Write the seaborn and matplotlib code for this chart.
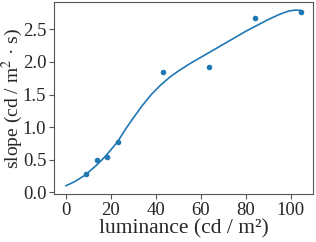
import matplotlib
matplotlib.use("Agg")
import matplotlib.pyplot as plt
import seaborn as sns
import pandas as pd

# measured points
lum_points = [8.8, 14.1, 18.3, 23.4, 43.4, 63.6, 83.9, 104.4]
slope_points = [0.275, 0.495, 0.55, 0.77, 1.845, 1.93, 2.67, 2.765]

# fitted curve
lum_curve = [0.0, 4.0, 8.7, 14.1, 17.8, 23.0, 26.4, 30.0, 34.0, 38.0, 42.0, 46.0, 50.0,
             55.0, 60.0, 65.0, 70.0, 75.0, 80.0, 85.0, 90.0, 95.0, 99.0, 102.0, 104.6]
slope_curve = [0.10, 0.165, 0.266, 0.43, 0.56, 0.775, 0.96, 1.14, 1.33, 1.50, 1.64, 1.76, 1.86,
               1.97, 2.07, 2.17, 2.27, 2.37, 2.47, 2.56, 2.65, 2.73, 2.78, 2.795, 2.79]

xticks = [0, 20, 40, 60, 80, 100]
yticks = [0.0, 0.5, 1.0, 1.5, 2.0, 2.5]

sns.set_style("ticks")
plt.rcParams['font.family'] = ['Liberation Serif', 'DejaVu Serif']
plt.rcParams['mathtext.fontset'] = 'stix'

fig = plt.figure(figsize=(3.16, 2.42), dpi=100)
ax = fig.add_axes([0.171, 0.197, 0.819, 0.795])

blue = "#1f77b4"
pts = pd.DataFrame({"x": lum_points, "y": slope_points})
crv = pd.DataFrame({"x": lum_curve, "y": slope_curve})
sns.lineplot(data=crv, x="x", y="y", ax=ax, color=blue, linewidth=1.2, sort=True)
sns.scatterplot(data=pts, x="x", y="y", ax=ax, color=blue, s=16, edgecolor=blue, linewidth=0, zorder=3)

ax.set_xticks(xticks)
ax.set_yticks(yticks)
ax.set_yticklabels([f"{v:.1f}" for v in yticks])
ax.set_xlim(-5.2, 109.8)
ax.set_ylim(-0.03, 2.92)
ax.set_xlabel("luminance (cd / m²)", fontsize=15.5, labelpad=0)
ax.set_ylabel("slope (cd / m$^2$ · s)", fontsize=14)
ax.yaxis.set_label_coords(-0.112, 0.5)
for s in ax.spines.values():
    s.set_visible(True)
    s.set_color("#555555")
    s.set_linewidth(0.8)
ax.tick_params(axis="both", labelsize=13.5, length=3.5, width=0.8, color="#555555", pad=2)

fig.savefig("out.png", dpi=100)
